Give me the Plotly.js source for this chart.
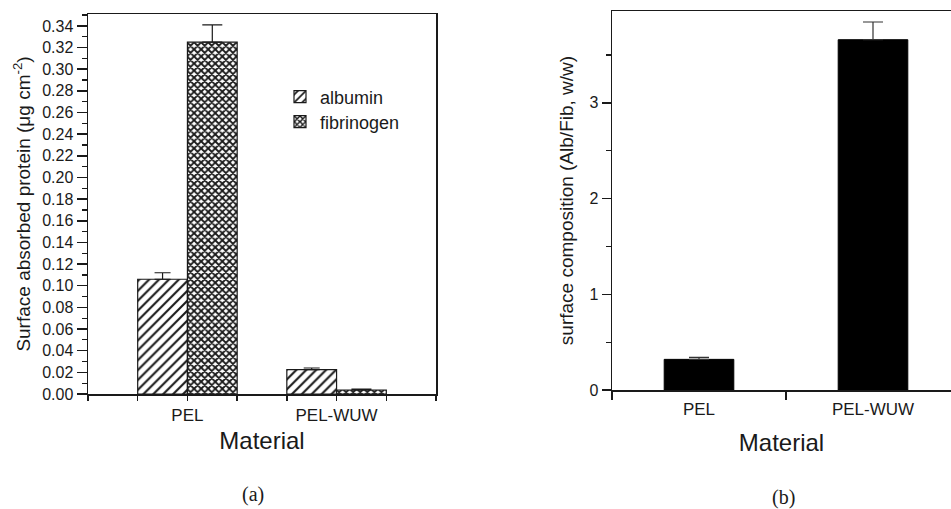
<!DOCTYPE html>
<html>
<head>
<meta charset="utf-8">
<script src="https://cdn.plot.ly/plotly-3.0.1.min.js"></script>
<style>html,body{margin:0;padding:0;background:#fff;}#chart{width:951px;height:509px;}</style>
</head>
<body>
<div id="chart"></div>
<script>
// ---- data ----
const materials = ["PEL", "PEL-WUW"];
const albumin = [0.106, 0.0225];
const albuminErr = [0.006, 0.0015];
const fibrinogen = [0.325, 0.0037];
const fibrinogenErr = [0.016, 0.0008];
const ratio = [0.32, 3.66];
const ratioErr = [0.02, 0.185];
const seriesNames = ["albumin", "fibrinogen"];

const ink = "#1a1a1a";
const sans = "'Liberation Sans', Arial, sans-serif";
const serif = "'Liberation Serif', 'Times New Roman', serif";
const noMinus = v => v.map(() => 0);

const traces = [
  {
    type: "bar", name: seriesNames[0], x: materials, y: albumin,
    xaxis: "x", yaxis: "y", legend: "legend",
    marker: {color: "#ffffff", line: {color: ink, width: 1.2},
      pattern: {shape: "/", fgcolor: ink, bgcolor: "#ffffff", size: 7, solidity: 0.3}},
    error_y: {type: "data", symmetric: false, array: albuminErr, arrayminus: noMinus(albuminErr),
      visible: true, color: ink, thickness: 1.2, width: 8}
  },
  {
    type: "bar", name: seriesNames[1], x: materials, y: fibrinogen,
    xaxis: "x", yaxis: "y", legend: "legend2",
    marker: {color: "#ffffff", line: {color: ink, width: 1.2},
      pattern: {shape: "x", fgcolor: ink, bgcolor: "#ffffff", size: 5, solidity: 0.6}},
    error_y: {type: "data", symmetric: false, array: fibrinogenErr, arrayminus: noMinus(fibrinogenErr),
      visible: true, color: ink, thickness: 1.2, width: 10}
  },
  {
    type: "scatter", x: [], y: [], xaxis: "x3", yaxis: "y", showlegend: false, hoverinfo: "skip"
  },
  {
    type: "bar", name: "Alb/Fib", x: materials, y: ratio, width: 0.4,
    xaxis: "x2", yaxis: "y2", showlegend: false,
    marker: {color: "#000000", line: {color: "#000000", width: 1}},
    error_y: {type: "data", symmetric: false, array: ratioErr, arrayminus: noMinus(ratioErr),
      visible: true, color: "#333", thickness: 1.2, width: 10}
  }
];

const W = 951, H = 509;
const axLine = {showline: true, linecolor: ink, linewidth: 1.5, showgrid: false, zeroline: false};

const layout = {
  width: W, height: H,
  margin: {l: 0, r: 0, t: 0, b: 0},
  paper_bgcolor: "#ffffff", plot_bgcolor: "#ffffff",
  font: {family: sans, color: ink, size: 16},
  barmode: "group", bargap: 0.333, bargroupgap: 0,
  xaxis: Object.assign({}, axLine, {
    domain: [88 / W, 436 / W], anchor: "y", type: "category",
    range: [-2 / 3, 5 / 3], mirror: true, ticks: "", ticklabelstandoff: 5,
    tickfont: {size: 17, color: ink},
    title: {text: "Material", font: {size: 24, color: ink}, standoff: 8}
  }),
  xaxis3: {
    overlaying: "x", anchor: "y", side: "bottom", range: [-2 / 3, 5 / 3],
    tickmode: "linear", tick0: -2 / 3, dtick: 1 / 3, ticks: "outside", ticklen: 6,
    tickcolor: ink, tickwidth: 1.5, showticklabels: false, showline: false,
    showgrid: false, zeroline: false
  },
  yaxis: Object.assign({}, axLine, {
    domain: [115 / H, 495 / H], anchor: "x", range: [0, 0.351], mirror: true,
    tickmode: "linear", tick0: 0, dtick: 0.02, tickformat: ".2f",
    ticks: "outside", ticklen: 10, tickwidth: 1.5, tickcolor: ink,
    minor: {dtick: 0.01, ticks: "outside", ticklen: 5, tickcolor: ink, tickwidth: 1.2},
    tickfont: {size: 16, color: ink},
    title: {text: "Surface absorbed protein (\u03bcg cm<sup>-2</sup>)", font: {size: 19, color: ink}, standoff: 6}
  }),
  xaxis2: Object.assign({}, axLine, {
    domain: [612 / W, 1], anchor: "y2", type: "category",
    range: [-0.5, -0.5 + (W - 612) / 174], mirror: true,
    tickson: "boundaries", ticks: "outside", ticklen: 8, tickwidth: 1.5, tickcolor: ink,
    ticklabelstandoff: 3,
    tickfont: {size: 17, color: ink},
    title: {text: "Material", font: {size: 24, color: ink}, standoff: 16}
  }),
  yaxis2: Object.assign({}, axLine, {
    domain: [119 / H, 498 / H], anchor: "x2", range: [0, 3.96], mirror: false,
    tickmode: "linear", tick0: 0, dtick: 1,
    ticks: "outside", ticklen: 9, tickwidth: 1.5, tickcolor: ink,
    minor: {dtick: 0.5, ticks: "outside", ticklen: 5, tickcolor: ink, tickwidth: 1.2},
    tickfont: {size: 16, color: ink},
    title: {text: "surface composition (Alb/Fib, w/w)", font: {size: 19, color: ink}, standoff: 10}
  }),
  legend: {x: 280 / W, y: 1 - 97 / H, xanchor: "left", yanchor: "middle",
    bgcolor: "rgba(0,0,0,0)", borderwidth: 0, font: {size: 18, color: ink}},
  legend2: {x: 280 / W, y: 1 - 122 / H, xanchor: "left", yanchor: "middle",
    bgcolor: "rgba(0,0,0,0)", borderwidth: 0, font: {size: 18, color: ink}},
  annotations: [
    {text: "(a)", xref: "paper", yref: "paper", x: 240 / W, y: 1 - 494 / H, yanchor: "middle",
      showarrow: false, font: {family: serif, size: 20, color: ink}},
    {text: "(b)", xref: "paper", yref: "paper", x: 797 / W, y: 1 - 497 / H, yanchor: "middle",
      showarrow: false, font: {family: serif, size: 20, color: ink}}
  ]
};

Plotly.newPlot("chart", traces, layout, {displayModeBar: false, staticPlot: true});
</script>
</body>
</html>
